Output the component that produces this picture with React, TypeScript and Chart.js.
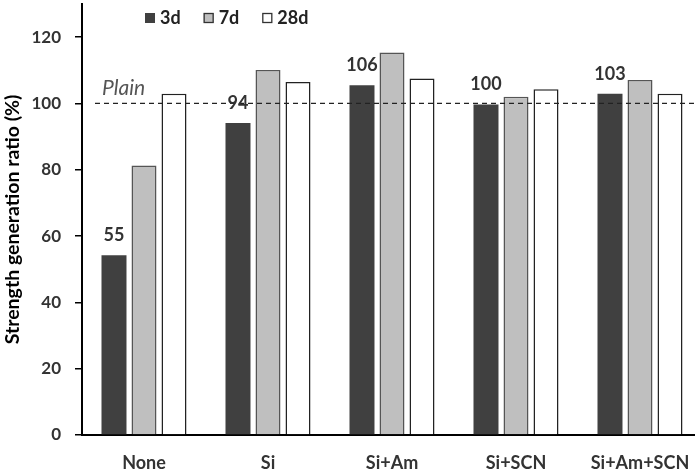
import React, { useEffect, useRef } from "react";
import { Chart, registerables } from "chart.js";

Chart.register(...registerables);

const categories = ["None", "Si", "Si+Am", "Si+SCN", "Si+Am+SCN"];
const seriesNames = ["3d", "7d", "28d"];
const values3d = [54.2, 94.1, 105.5, 99.7, 102.9];
const values7d = [81.3, 110.1, 115.4, 102.0, 107.1];
const values28d = [102.9, 106.5, 107.5, 104.3, 102.9];
const labels3d = ["55", "94", "106", "100", "103"];
const yTicks = [0, 20, 40, 60, 80, 100, 120];
const plainValue = 100;
const plainLabel = "Plain";
const yTitle = "Strength generation ratio (%)";

const fills = ["#404040", "#bfbfbf", "#ffffff"];
const borders = ["#404040", "#555555", "#222222"];
const FONT = "Lato, 'Open Sans', sans-serif";

const overlayPlugin = {
  id: "overlay",
  afterDatasetsDraw(chart: any) {
    const ctx = chart.ctx;
    const area = chart.chartArea;
    const yScale = chart.scales.y;
    const py = yScale.getPixelForValue(plainValue);
    ctx.save();
    // dashed reference line
    ctx.setLineDash([5, 4]);
    ctx.lineWidth = 1.3;
    ctx.strokeStyle = "#222";
    ctx.beginPath();
    ctx.moveTo(area.left + 13, py);
    ctx.lineTo(area.right, py);
    ctx.stroke();
    ctx.setLineDash([]);
    // Plain label
    ctx.font = `italic 21px ${FONT}`;
    ctx.fillStyle = "#555";
    ctx.textAlign = "left";
    ctx.textBaseline = "alphabetic";
    ctx.fillText(plainLabel, area.left + 20, py - 8);
    // value labels on 3d bars
    const meta = chart.getDatasetMeta(0);
    ctx.font = `bold 18px ${FONT}`;
    ctx.fillStyle = "#333";
    ctx.textAlign = "center";
    meta.data.forEach((bar: any, i: number) => {
      ctx.fillText(labels3d[i], bar.x, bar.y - 14);
    });
    // legend
    ctx.font = `bold 18px ${FONT}`;
    ctx.textAlign = "left";
    ctx.textBaseline = "middle";
    let x = area.left + 63;
    const cy = 18;
    chart.data.datasets.forEach((ds: any, i: number) => {
      ctx.fillStyle = ds.backgroundColor;
      ctx.fillRect(x, cy - 5, 10, 10);
      if (i > 0) {
        ctx.lineWidth = 1.3;
        ctx.strokeStyle = "#333";
        ctx.strokeRect(x + 0.5, cy - 4.5, 9, 9);
      }
      ctx.fillStyle = "#222";
      ctx.fillText(ds.label, x + 15, cy);
      x += 15 + ctx.measureText(ds.label).width + 23;
    });
    ctx.restore();
  },
};

export default function App() {
  const ref = useRef<HTMLCanvasElement | null>(null);
  useEffect(() => {
    document.body.style.margin = "0";
    document.body.style.overflow = "hidden";
    const canvas = ref.current;
    if (!canvas) return;
    const chart = new Chart(canvas, {
      type: "bar",
      data: {
        labels: categories,
        datasets: [values3d, values7d, values28d].map((vals, i) => ({
          label: seriesNames[i],
          data: vals,
          backgroundColor: fills[i],
          borderColor: borders[i],
          borderWidth: i === 0 ? 0 : 1.5,
          categoryPercentage: 0.726,
          barPercentage: 0.833,
        })),
      },
      options: {
        responsive: false,
        devicePixelRatio: 1,
        animation: false,
        events: [],
        layout: { padding: { top: 4, right: 3, left: 0, bottom: 0 } },
        plugins: {
          legend: { display: false },
          tooltip: { enabled: false },
        },
        scales: {
          x: {
            grid: { display: false },
            border: { display: true, color: "#000", width: 2 },
            ticks: {
              font: { family: FONT, size: 18, weight: "bold" },
              color: "#333",
              padding: 9,
              maxRotation: 0,
              autoSkip: false,
            },
            afterFit(scale: any) {
              scale.height = 40;
              scale.paddingLeft = 0;
              scale.paddingRight = 0;
            },
          },
          y: {
            min: 0,
            max: 130,
            afterBuildTicks(scale: any) {
              scale.ticks = yTicks.map((v) => ({ value: v }));
            },
            grid: {
              display: true,
              drawOnChartArea: false,
              drawTicks: true,
              tickLength: 7,
              color: "#000",
              lineWidth: 1.5,
            },
            border: { display: true, color: "#000", width: 2 },
            ticks: {
              font: { family: FONT, size: 17, weight: "bold" },
              color: "#333",
              padding: 14,
            },
            title: {
              display: true,
              text: yTitle,
              font: { family: FONT, size: 19.5, weight: "bold" },
              color: "#000",
              padding: { top: 1, bottom: 0 },
            },
            afterFit(scale: any) {
              scale.width = 82;
              scale.paddingTop = 0;
              scale.paddingBottom = 0;
            },
          },
        },
      },
      plugins: [overlayPlugin],
    } as any);
    return () => chart.destroy();
  }, []);
  return (
    <div style={{ width: 705, height: 475, background: "#fff" }}>
      <canvas ref={ref} width={705} height={475} />
    </div>
  );
}
